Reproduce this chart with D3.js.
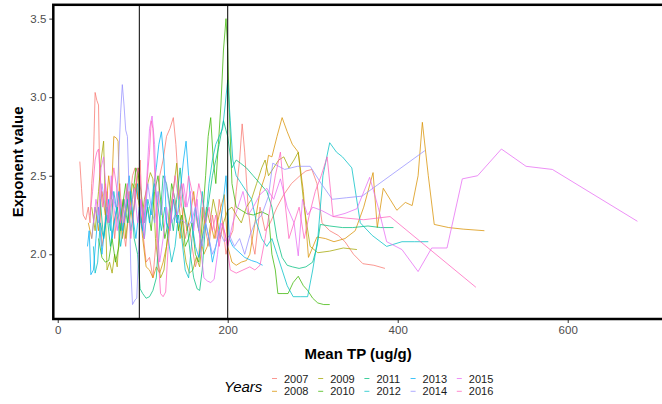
<html><head><meta charset="utf-8">
<style>
  body { margin:0; background:#fff; font-family: "Liberation Sans", Arial, sans-serif; }
  svg text { font-family: "Liberation Sans", Arial, sans-serif; }
</style>
</head>
<body>
<svg id="chart"></svg>
<script src="https://d3js.org/d3.v7.min.js"></script>
<script>
// years and colours (ggplot hue palette)
const years = ["2007","2008","2009","2010","2011","2012","2013","2014","2015","2016"];
const colors = ["#F8766D","#D89000","#A3A500","#39B600","#00BF7D","#00BFC4","#00B0F6","#9590FF","#E76BF3","#FF62BC"];
const xTicks = [0, 200, 400, 600];
const yTicks = [2.0, 2.5, 3.0, 3.5];
const vLines = [96, 200];

// [Mean TP, exponent] per year
const s2007 = [[26,2.59],[28,2.42],[30,2.25],[33,2.22],[36,2.3],[38,2.2],[40,2.45],[42,2.6],[44,3.03],[46,2.98],[48,2.95],[50,2.3],[52,2.05],[55,2.15],[58,2.4],[61,2.2],[64,2.35],[67,2.1],[70,2.28],[73,2.45],[76,2.2],[80,2.05],[84,2.3],[88,2.5],[91,2.55],[94,2.35],[97,2.6],[100,2.15],[104,1.95],[108,1.98],[112,1.85],[116,2.1],[120,2.5],[124,2.6],[128,2.75],[132,2.8],[136,2.87],[139,2.7],[142,2.45],[146,2.3],[150,2.1],[154,2.2],[158,2.05],[162,1.92],[166,2.0],[170,2.3],[174,2.15],[178,2.05],[182,2.25],[186,2.1],[190,2.35],[194,2.2],[198,2.0],[202,2.1],[206,2.15],[210,2.4],[214,2.6],[217,2.83],[220,2.65],[224,2.3],[228,2.1],[232,2.0],[238,2.3],[244,2.15],[250,2.2],[258,2.3],[266,2.38],[275,2.45],[285,2.5],[292,2.53],[299,2.54],[305,2.45],[311,2.2],[320,2.15],[330,2.12],[338,2.08],[348,2.0],[359,1.94],[372,1.93],[385,1.91]];
const s2008 = [[36,2.2],[40,2.1],[44,2.3],[48,2.15],[52,2.4],[56,2.25],[60,2.5],[63,2.35],[66,2.75],[69,2.74],[71,2.72],[73,2.3],[76,2.1],[80,2.25],[84,2.4],[88,2.2],[92,2.45],[96,2.3],[100,2.1],[104,1.92],[108,1.9],[112,1.85],[116,1.92],[120,1.88],[124,1.95],[128,2.05],[132,2.2],[136,2.35],[140,2.25],[144,2.1],[148,2.3],[152,2.15],[156,2.25],[160,2.4],[164,2.2],[168,2.1],[172,2.0],[176,2.05],[180,2.2],[184,2.1],[188,2.2],[192,2.3],[196,2.38],[200,2.05],[205,1.95],[210,1.93],[216,1.95],[222,1.96],[226,2.0],[232,2.2],[238,2.4],[244,2.5],[248,2.63],[252,2.62],[258,2.75],[264,2.87],[270,2.78],[276,2.7],[283,2.65],[289,2.4],[295,1.98],[305,2.11],[315,2.1],[325,2.08],[338,2.1],[350,2.15],[360,2.3],[371,2.52],[376,2.17],[383,2.42],[391,2.35],[399,2.28],[409,2.33],[417,2.31],[424,2.5],[429,2.84],[436,2.5],[443,2.19],[460,2.17],[477,2.16],[502,2.15]];
const s2009 = [[40,2.3],[44,2.15],[48,2.4],[51,2.6],[54,2.72],[56,2.3],[58,1.9],[61,1.95],[64,1.88],[67,2.0],[70,1.92],[73,2.2],[77,2.35],[80,2.1],[84,2.3],[88,2.45],[92,2.4],[95,2.55],[98,2.2],[102,2.35],[106,2.45],[109,2.52],[112,2.48],[115,2.1],[118,1.95],[121,1.85],[125,1.9],[129,2.1],[133,2.3],[137,2.45],[140,2.58],[143,2.3],[147,2.1],[151,1.95],[155,1.88],[159,1.9],[163,1.98],[167,1.92],[171,2.15],[175,2.3],[179,2.2],[183,2.35],[187,2.25],[191,2.1],[195,2.2],[200,2.28],[205,2.3],[210,2.25],[216,2.2],[222,2.3],[228,2.35],[234,2.45],[240,2.55],[244,2.6],[248,2.5],[254,2.55],[260,2.6],[266,2.62],[272,2.55],[278,2.6],[283,2.65],[290,2.3],[297,2.05],[306,2.01],[320,2.02],[336,2.04],[352,2.03]];
const s2010 = [[48,2.1],[52,1.98],[56,1.95],[60,1.96],[64,2.1],[68,1.95],[72,2.05],[76,2.3],[80,2.45],[84,2.2],[88,2.35],[92,2.55],[95,2.5],[98,2.4],[102,2.2],[106,2.3],[110,2.15],[114,2.4],[118,2.5],[122,2.3],[126,2.1],[130,2.2],[134,2.45],[138,2.35],[142,2.15],[146,2.25],[150,2.05],[154,2.1],[158,2.2],[162,2.0],[166,1.95],[170,2.2],[174,2.5],[177,2.75],[180,2.87],[183,2.6],[186,2.45],[189,2.7],[192,2.95],[195,3.3],[198,3.5],[200,3.3],[202,2.9],[205,2.45],[210,2.3],[216,2.28],[222,2.26],[230,2.25],[240,2.27],[248,2.25],[252,2.0],[256,1.9],[259,1.75],[265,1.75],[271,1.75],[277,1.82],[283,1.86],[289,1.8],[294,1.77],[300,1.72],[306,1.69],[313,1.68],[320,1.68]];
const s2011 = [[50,2.35],[54,2.1],[58,2.25],[62,2.05],[66,2.2],[70,2.3],[74,2.15],[78,2.35],[82,2.2],[86,2.4],[90,2.1],[94,2.0],[97,1.78],[100,1.75],[104,1.72],[108,1.73],[112,1.77],[116,1.85],[120,2.2],[124,2.5],[128,2.45],[132,2.3],[136,2.15],[140,2.35],[144,2.55],[148,2.3],[152,2.2],[156,2.0],[160,1.85],[164,1.78],[167,1.77],[170,1.9],[174,2.2],[178,2.35],[182,2.5],[186,2.6],[190,2.7],[195,2.85],[200,2.75],[205,2.55],[210,2.6],[215,2.58],[222,2.55],[230,2.5],[238,2.45],[246,2.4],[252,2.3],[258,2.1],[264,1.98],[270,1.93],[276,1.92],[284,1.91],[292,1.92],[300,1.95],[305,2.05],[309,2.19],[320,2.18],[335,2.17],[347,2.17],[365,2.18],[380,2.17],[395,2.17]];
const s2012 = [[42,2.05],[44,1.88],[47,1.95],[50,2.2],[54,2.1],[58,2.3],[62,2.15],[66,2.4],[70,2.25],[74,2.05],[78,2.2],[82,2.35],[86,2.15],[90,2.3],[94,2.45],[98,2.2],[102,2.1],[106,2.35],[110,2.25],[114,2.45],[118,2.3],[122,2.15],[126,2.3],[130,2.1],[134,1.95],[138,2.05],[142,2.25],[146,2.1],[150,1.9],[154,1.85],[158,2.1],[162,2.3],[166,2.15],[170,2.4],[174,2.2],[178,2.45],[182,2.6],[186,2.7],[190,2.75],[194,2.8],[197,2.95],[200,3.11],[203,2.85],[206,2.6],[210,2.5],[216,2.45],[222,2.4],[228,2.35],[234,2.2],[240,2.1],[246,2.05],[252,2.1],[258,2.0],[264,1.9],[270,1.8],[277,1.73],[286,1.73],[294,1.73],[300,1.9],[306,2.1],[312,2.5],[320,2.71],[328,2.65],[335,2.62],[346,2.55],[356,2.2],[370,2.12],[387,2.05],[405,2.08],[420,2.08],[436,2.08]];
const s2013 = [[35,2.05],[37,2.15],[39,1.87],[42,1.9],[45,2.1],[48,2.3],[52,2.0],[56,2.2],[60,2.35],[64,2.1],[68,2.25],[72,2.4],[76,2.15],[80,2.3],[84,2.5],[88,2.25],[92,2.1],[96,2.3],[100,2.15],[104,2.35],[108,2.2],[112,2.4],[116,2.55],[119,2.7],[122,2.78],[125,2.6],[128,2.2],[132,2.15],[136,2.35],[140,2.2],[144,2.4],[148,2.6],[151,2.72],[154,2.5],[158,2.2],[162,2.05],[166,1.98],[170,2.1],[174,2.2],[178,2.1],[182,1.95],[186,2.05],[190,2.15],[194,2.3],[198,2.5],[202,2.1],[206,2.05],[212,2.02],[220,1.98],[228,1.96],[234,1.95],[241,1.93]];
const s2014 = [[40,2.1],[44,2.3],[48,2.2],[52,2.45],[56,2.3],[60,2.2],[64,2.4],[68,2.3],[71,2.5],[74,2.9],[76,3.08],[78,2.95],[80,2.79],[82,2.75],[84,2.4],[86,1.9],[88,1.68],[91,1.71],[93,1.72],[95,2.0],[98,2.35],[102,2.2],[106,2.45],[110,2.3],[114,2.2],[118,2.4],[122,2.25],[126,2.5],[130,2.35],[134,2.2],[138,2.25],[142,2.2],[146,2.22],[150,2.2],[154,2.18],[158,2.22],[162,2.3],[166,2.15],[170,2.05],[174,2.2],[178,2.1],[182,2.0],[186,2.05],[190,2.15],[196,2.08],[202,2.12],[208,2.05],[214,2.1],[220,2.0],[226,2.12],[232,2.2],[240,2.25],[248,2.37],[253,2.58],[267,2.54],[282,2.56],[297,2.56],[310,2.45],[323,2.35],[340,2.36],[358,2.37],[432,2.66]];
const s2015 = [[42,2.2],[45,2.35],[48,2.25],[51,2.55],[54,2.62],[57,2.4],[60,2.25],[63,2.5],[66,2.3],[70,2.15],[74,2.35],[78,2.2],[82,2.4],[86,2.28],[90,2.42],[94,2.2],[98,2.35],[102,2.1],[105,2.5],[108,2.8],[111,2.88],[114,2.7],[117,2.2],[120,1.95],[124,2.1],[128,2.3],[132,2.15],[136,2.4],[140,2.25],[144,2.3],[148,2.45],[152,2.3],[156,2.4],[160,2.15],[164,2.35],[168,2.05],[172,1.85],[176,1.83],[180,1.82],[184,1.84],[188,2.0],[192,2.2],[196,2.15],[200,2.05],[206,2.2],[212,2.3],[218,2.4],[224,2.25],[230,2.3],[238,2.38],[246,2.42],[254,2.35],[262,2.48],[270,2.3],[278,2.2],[283,1.99],[288,2.35],[294,2.25],[300,2.3],[310,2.28],[324,2.24],[338,2.26],[352,2.29],[367,2.49],[377,2.3],[387,2.08],[405,2.03],[424,1.89],[440,2.04],[458,2.04],[476,2.48],[494,2.5],[522,2.67],[551,2.56],[582,2.54],[682,2.21]];
const s2016 = [[38,2.25],[41,2.4],[44,2.6],[46,2.65],[48,2.67],[50,2.5],[53,2.3],[56,2.45],[59,2.2],[62,2.35],[66,2.55],[70,2.4],[74,2.2],[78,2.3],[82,2.45],[86,2.1],[90,2.3],[94,2.55],[97,2.5],[100,2.2],[104,2.4],[108,2.65],[110,2.85],[112,2.8],[115,2.4],[118,2.0],[121,1.75],[124,1.73],[127,1.76],[130,2.05],[134,2.3],[138,2.5],[142,2.35],[146,2.45],[150,2.3],[154,2.5],[158,2.4],[162,2.3],[166,2.45],[170,2.35],[174,2.2],[178,2.3],[182,2.15],[186,2.25],[190,2.05],[194,2.2],[198,2.1],[203,1.9],[210,1.88],[218,1.9],[226,1.92],[232,1.9],[238,1.93],[244,2.1],[250,2.3],[256,2.5],[262,2.65],[266,2.4],[272,2.1],[278,2.2],[284,2.3],[290,2.1],[296,2.25],[303,2.4],[310,2.5],[317,2.62],[324,2.24],[340,2.23],[360,2.22],[391,2.24],[492,1.79]];

const seriesList = [s2007, s2008, s2009, s2010, s2011, s2012, s2013, s2014, s2015, s2016];

const width = 662, height = 404;
const svg = d3.select("#chart").attr("width", width).attr("height", height);

const panel = {left: 53.3, top: 4.8, right: 669.7, bottom: 319};
const x = d3.scaleLinear().domain([-5.2, 720]).range([panel.left, panel.right]);
const y = d3.scaleLinear().domain([1.588, 3.588]).range([panel.bottom, panel.top]);

// lines
const line = d3.line().x(d => x(d[0])).y(d => y(d[1]));
svg.append("g").selectAll("path")
  .data(seriesList)
  .enter().append("path")
  .attr("d", d => line(d))
  .attr("fill", "none")
  .attr("stroke", (d, i) => colors[i])
  .attr("stroke-width", 1)
  .attr("stroke-opacity", 0.75);

// vertical reference lines
svg.append("g").selectAll("line")
  .data(vLines)
  .enter().append("line")
  .attr("x1", d => x(d)).attr("x2", d => x(d))
  .attr("y1", panel.top).attr("y2", panel.bottom)
  .attr("stroke", "#000").attr("stroke-width", 1);

// axes
const xAxis = d3.axisBottom(x).tickValues(xTicks).tickSize(4).tickPadding(3).tickFormat(d3.format("d"));
const yAxis = d3.axisLeft(y).tickValues(yTicks).tickSize(4).tickPadding(3).tickFormat(d3.format(".1f"));

const gx = svg.append("g").attr("transform", `translate(0,${panel.bottom})`).call(xAxis);
const gy = svg.append("g").attr("transform", `translate(${panel.left},0)`).call(yAxis);
[gx, gy].forEach(g => {
  g.select(".domain").remove();
  g.selectAll(".tick line").attr("stroke", "#333").attr("stroke-width", 1);
  g.selectAll(".tick text").attr("fill", "#4d4d4d").style("font-size", "11.5px");
});

// panel border
svg.append("rect")
  .attr("x", panel.left).attr("y", panel.top)
  .attr("width", panel.right - panel.left).attr("height", panel.bottom - panel.top)
  .attr("fill", "none").attr("stroke", "#000").attr("stroke-width", 2.5);

// titles
svg.append("text")
  .attr("x", (panel.left + 663) / 2).attr("y", 359)
  .attr("text-anchor", "middle")
  .style("font-size", "15px").style("font-weight", "bold")
  .text("Mean TP (ug/g)");

svg.append("text")
  .attr("transform", `translate(23,${(panel.top + panel.bottom) / 2}) rotate(-90)`)
  .attr("text-anchor", "middle")
  .style("font-size", "15px").style("font-weight", "bold")
  .text("Exponent value");

// legend
const legend = svg.append("g");
legend.append("text")
  .attr("x", 224).attr("y", 391.5)
  .style("font-size", "15px").style("font-style", "italic")
  .text("Years");

const items = legend.selectAll("g.item")
  .data(years)
  .enter().append("g")
  .attr("class", "item")
  .attr("transform", (d, i) => `translate(${272 + Math.floor(i / 2) * 46.2},${i % 2 === 0 ? 378.5 : 391.3})`);

items.append("line")
  .attr("x1", 0).attr("x2", 5).attr("y1", 0).attr("y2", 0)
  .attr("stroke", (d, i) => colors[i]).attr("stroke-opacity", 0.75).attr("stroke-width", 1);

items.append("text")
  .attr("x", 12).attr("y", 4)
  .style("font-size", "11px").attr("fill", "#1a1a1a")
  .text(d => d);
</script>
</body></html>
